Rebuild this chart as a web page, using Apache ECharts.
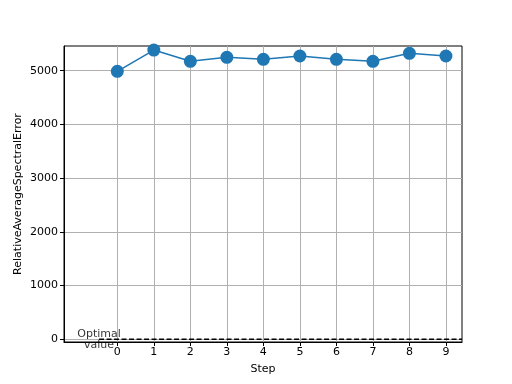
<!DOCTYPE html>
<html><head><meta charset="utf-8">
<script src="https://cdn.jsdelivr.net/npm/echarts@6/dist/echarts.min.js"></script>
<style>html,body{margin:0;padding:0;background:#fff}#c{width:512px;height:384px}</style>
</head><body><div id="c"></div>
<script>
const steps = [0,1,2,3,4,5,6,7,8,9];
const errors = [4989,5385,5175,5249,5212,5274,5212,5175,5324,5274];
const xTicks = [0,1,2,3,4,5,6,7,8,9];
const yTicks = [0,1000,2000,3000,4000,5000];
const optimalValue = 0;
const optimalStart = -0.5;
const optimalEnd = 9.44;
const optimalLabel = 'Optimal\nvalue';

const font = 'DejaVu Sans';
const chart = echarts.init(document.getElementById('c'), null, {renderer:'canvas'});
chart.setOption({
  animation:false,
  backgroundColor:'#fff',
  grid:{left:64,right:50,top:46,bottom:42,show:true,borderColor:'#000',borderWidth:1,containLabel:false,outerBoundsMode:'none'},
  xAxis:{type:'value',min:-1.46,max:9.44,name:'Step',nameLocation:'middle',nameGap:22,nameMoveOverlap:false,
    nameTextStyle:{fontFamily:font,fontSize:11,color:'#000'},
    axisLine:{onZero:false,lineStyle:{color:'#000',width:1}},
    axisTick:{customValues:xTicks,length:4,lineStyle:{color:'#000'}},
    axisLabel:{customValues:xTicks,formatter:v=>String(v),fontFamily:font,fontSize:11,color:'#000',margin:5},
    splitLine:{show:true,lineStyle:{color:'#b0b0b0',width:1}}},
  yAxis:{type:'value',min:-50,max:5460,name:'RelativeAverageSpectralError',nameLocation:'middle',nameGap:40,nameMoveOverlap:false,
    nameTextStyle:{fontFamily:font,fontSize:11,color:'#000'},
    axisLine:{onZero:false,lineStyle:{color:'#000',width:1}},
    axisTick:{customValues:yTicks,length:4,lineStyle:{color:'#000'}},
    axisLabel:{customValues:yTicks,formatter:v=>String(v),fontFamily:font,fontSize:11,color:'#000',margin:6},
    splitLine:{show:true,lineStyle:{color:'#b0b0b0',width:1}}},
  series:[
    {type:'line',data:steps.map((s,i)=>[s,errors[i]]),symbol:'circle',symbolSize:13,
     itemStyle:{color:'#1f77b4'},lineStyle:{color:'#1f77b4',width:1.5},z:3},
    {type:'line',data:[[optimalStart,optimalValue],[optimalEnd,optimalValue]],symbol:'none',
     lineStyle:{color:'#000',width:1.5,type:[5,2.5]},z:2},
    {type:'scatter',data:[[optimalStart,optimalValue]],symbolSize:0,z:4,
     label:{show:true,position:'inside',formatter:optimalLabel,fontFamily:font,fontSize:11,color:'#000',lineHeight:11,align:'center',verticalAlign:'middle'}}
  ]
});
</script></body></html>
